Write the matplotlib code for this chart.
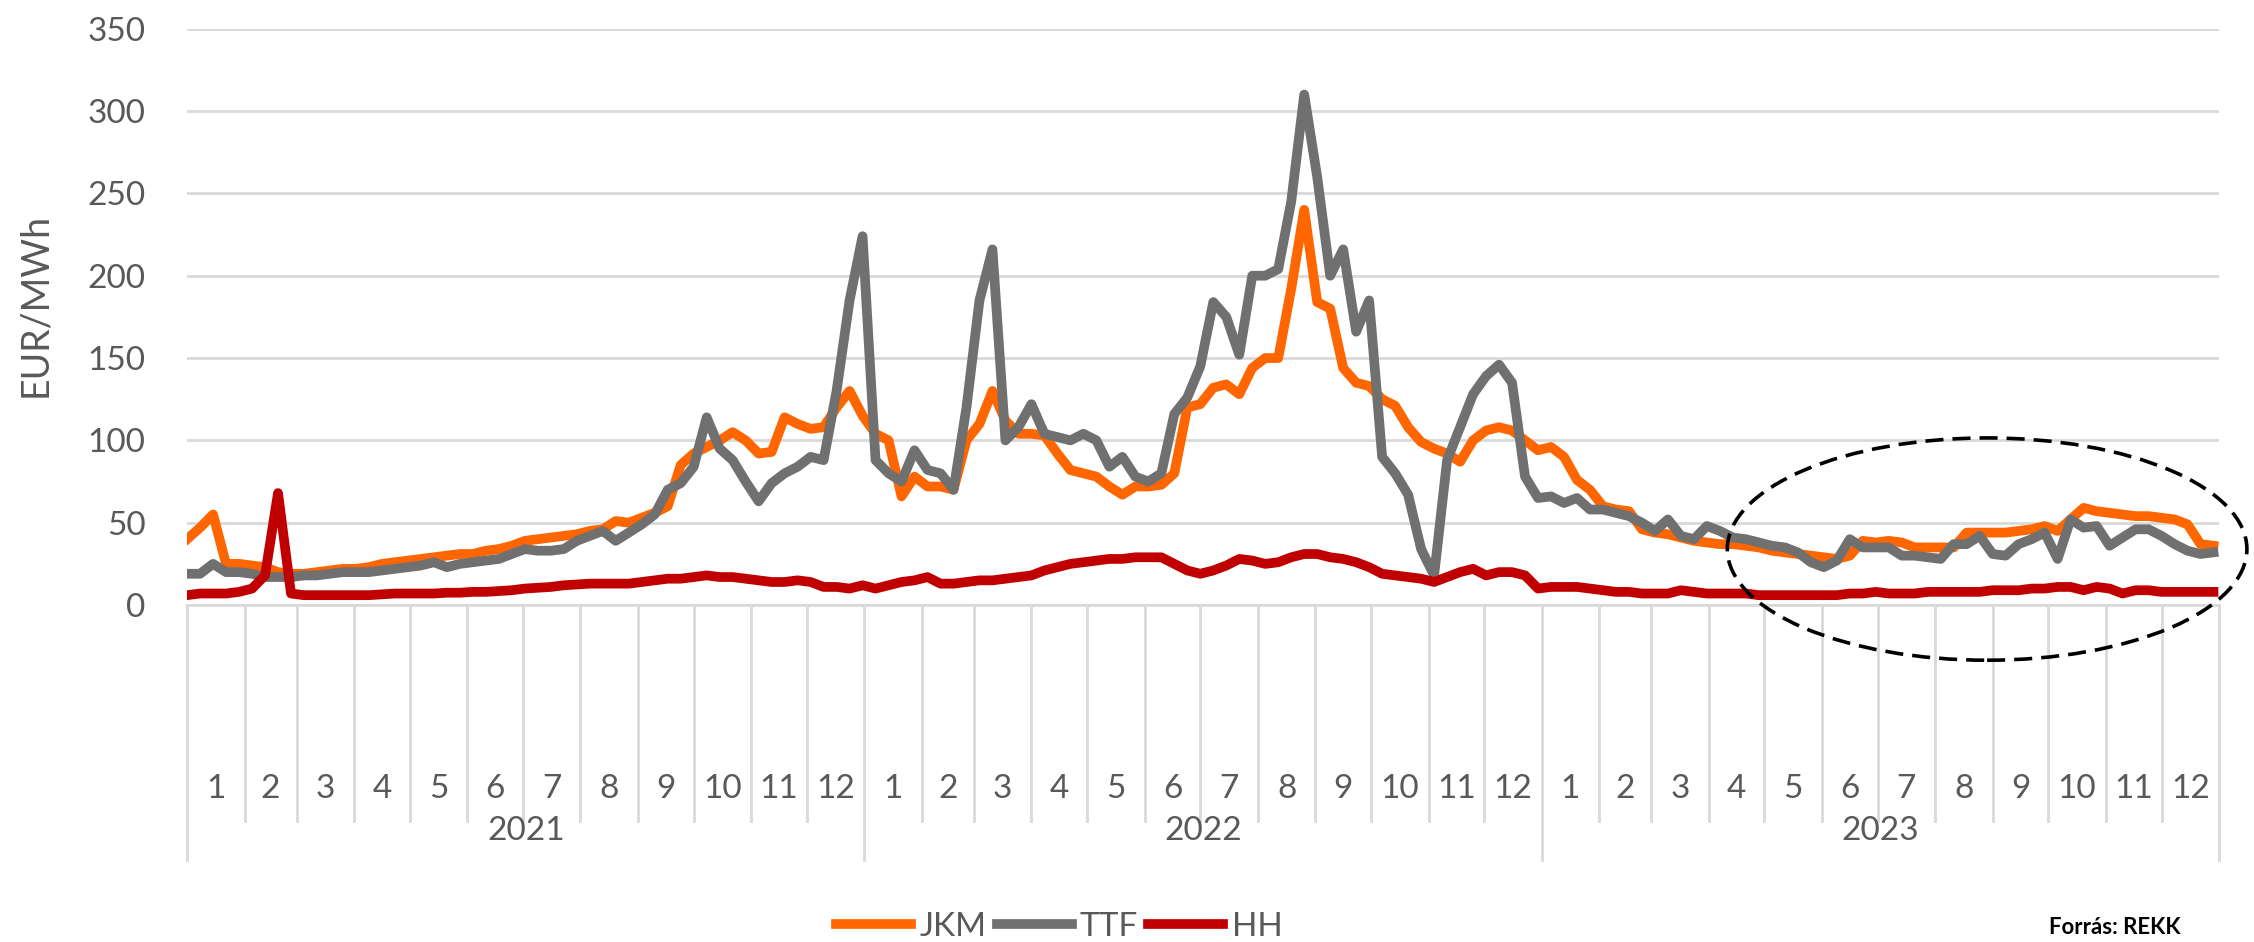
import matplotlib
matplotlib.use("Agg")
import matplotlib.pyplot as plt
import matplotlib.dates as mdates
import matplotlib.transforms as mtransforms
from matplotlib.patches import Ellipse
import pandas as pd

# weekly samples, 2021-01-01 .. 2023-12-29
WEEKS = pd.date_range("2021-01-01", periods=157, freq="7D")

JKM = [
    # 2021
    40, 47, 55, 25, 25, 24, 23, 20, 19, 19, 20, 21, 22, 22, 23, 25, 26, 27, 28, 29,
    30, 31, 31, 33, 34, 36, 39, 40, 41, 42, 43, 45, 46, 51, 50, 53, 56, 60, 85, 92,
    96, 100, 105, 100, 92, 93, 114, 110, 107, 108, 120, 130, 115,
    # 2022
    104, 100, 66, 78, 72, 72, 70, 100, 110, 130, 112, 104, 104, 103, 92, 82, 80, 78,
    72, 67, 72, 72, 73, 80, 120, 122, 132, 134, 128, 144, 150, 150, 192, 240, 184, 180,
    144, 135, 133, 125, 121, 108, 99, 95, 92, 87, 100, 106, 108, 106, 100, 94,
    # 2023
    96, 90, 76, 70, 60, 58, 57, 46, 44, 43, 41, 39, 38, 37, 37, 36, 35, 33, 32, 31,
    30, 29, 28, 30, 39, 38, 39, 38, 35, 35, 35, 35, 44, 44, 44, 44, 45, 46, 48, 45,
    52, 59, 57, 56, 55, 54, 54, 53, 52, 49, 37, 36,
]

TTF = [
    # 2021
    19, 19, 25, 20, 20, 19, 17, 17, 17, 18, 18, 19, 20, 20, 20, 21, 22, 23, 24, 26,
    23, 25, 26, 27, 28, 31, 34, 33, 33, 34, 39, 42, 45, 39, 44, 49, 55, 70, 74, 84,
    114, 95, 88, 75, 63, 74, 80, 84, 90, 88, 130, 185, 224,
    # 2022
    88, 80, 75, 94, 82, 80, 70, 120, 185, 216, 100, 108, 122, 104, 102, 100, 104, 100,
    84, 90, 78, 75, 80, 116, 126, 145, 184, 175, 152, 200, 200, 204, 245, 310, 260, 200,
    216, 166, 185, 90, 80, 67, 34, 18, 88, 108, 128, 139, 146, 135, 78, 65,
    # 2023
    66, 62, 65, 58, 58, 56, 54, 50, 45, 52, 42, 40, 48, 45, 41, 40, 38, 36, 35, 32,
    26, 23, 27, 40, 35, 35, 35, 30, 30, 29, 28, 37, 37, 42, 31, 30, 37, 40, 44, 28,
    52, 47, 48, 36, 41, 46, 46, 42, 37, 33, 31, 32,
]

HH = [
    # 2021
    6, 7, 7, 7, 8, 10, 18, 68, 7, 6, 6, 6, 6, 6, 6, 6.5, 7, 7, 7, 7,
    7.5, 7.5, 8, 8, 8.5, 9, 10, 10.5, 11, 12, 12.5, 13, 13, 13, 13, 14, 15, 16, 16, 17,
    18, 17, 17, 16, 15, 14, 14, 15, 14, 11, 11, 10, 12,
    # 2022
    10, 12, 14, 15, 17, 13, 13, 14, 15, 15, 16, 17, 18, 21, 23, 25, 26, 27, 28, 28,
    29, 29, 29, 25, 21, 19, 21, 24, 28, 27, 25, 26, 29, 31, 31, 29, 28, 26, 23, 19,
    18, 17, 16, 14, 17, 20, 22, 18, 20, 20, 18, 10,
    # 2023
    11, 11, 11, 10, 9, 8, 8, 7, 7, 7, 9, 8, 7, 7, 7, 7, 6, 6, 6, 6,
    6, 6, 6, 7, 7, 8, 7, 7, 7, 8, 8, 8, 8, 8, 9, 9, 9, 10, 10, 11,
    11, 9, 11, 10, 7, 9, 9, 8, 8, 8, 8, 8,
]

YEARS = [2021, 2022, 2023]
MONTH_LABELS = [str(m) for m in range(1, 13)]

ORANGE = "#FF6600"
GREY = "#707070"
RED = "#C00000"
TXT = "#595959"
GRID = "#D9D9D9"

plt.rcParams["font.family"] = ["Lato", "DejaVu Sans"]

fig = plt.figure(figsize=(22.54, 9.42), dpi=100)
ax = fig.add_axes([0.083, 0.3577, 0.9015, 0.6118])

ax.plot(WEEKS, JKM, color=ORANGE, lw=7, label="JKM", solid_joinstyle="round")
ax.plot(WEEKS, TTF, color=GREY, lw=7, label="TTF", solid_joinstyle="round")
ax.plot(WEEKS, HH, color=RED, lw=7, label="HH", solid_joinstyle="round")

x0 = pd.Timestamp("2021-01-01")
x1 = pd.Timestamp("2024-01-01")
ax.set_xlim(x0, x1)
ax.set_ylim(0, 350)
ax.set_yticks(range(0, 351, 50))
ax.tick_params(axis="y", length=0, pad=30, labelsize=24, labelcolor=TXT)
ax.set_xticks([])
ax.grid(axis="y", color=GRID, lw=2)
ax.set_axisbelow(True)
for s in ["top", "right", "left"]:
    ax.spines[s].set_visible(False)
ax.spines["bottom"].set_color(GRID)
ax.spines["bottom"].set_linewidth(2)

ax.set_ylabel("EUR/MWh", fontsize=27, color=TXT)
ax.yaxis.set_label_coords(-0.066, 0.52)

# two-level category axis: months then years
trans = mtransforms.blended_transform_factory(ax.transData, ax.transAxes)
for y in YEARS:
    for m in range(1, 13):
        start = pd.Timestamp(year=y, month=m, day=1)
        end = start + pd.offsets.MonthBegin(1)
        low = -0.4425 if m == 1 else -0.375
        ax.plot([start, start], [0, low], transform=trans, color=GRID, lw=2,
                clip_on=False)
        mid = start + (end - start) / 2
        ax.text(mid, -0.319, MONTH_LABELS[m - 1], transform=trans, ha="center",
                va="center", fontsize=24, color=TXT)
    ys = pd.Timestamp(year=y, month=1, day=1)
    ye = pd.Timestamp(year=y + 1, month=1, day=1)
    ax.text(ys + (ye - ys) / 2, -0.392, str(y), transform=trans, ha="center",
            va="center", fontsize=24, color=TXT)
ax.plot([x1, x1], [0, -0.4425], transform=trans, color=GRID, lw=2, clip_on=False)

# dashed ellipse around 2023 H2
xc = mdates.date2num(pd.Timestamp("2023-08-29"))
ell = Ellipse((xc, 34), width=280, height=135, fill=False, edgecolor="black",
              lw=2.6, linestyle=(0, (5, 2.5)), clip_on=False, zorder=5)
ax.add_patch(ell)

fig.legend(loc="center", bbox_to_anchor=(0.47, 0.016), ncol=3, frameon=False,
           fontsize=24, handlelength=2.25, handletextpad=0.25, columnspacing=0.3,
           labelcolor=TXT)

fig.text(0.909, 0.004, "Forrás: REKK", fontsize=16, fontweight="bold",
         ha="left", va="bottom", color="black")

fig.savefig("out.png", dpi=100)
